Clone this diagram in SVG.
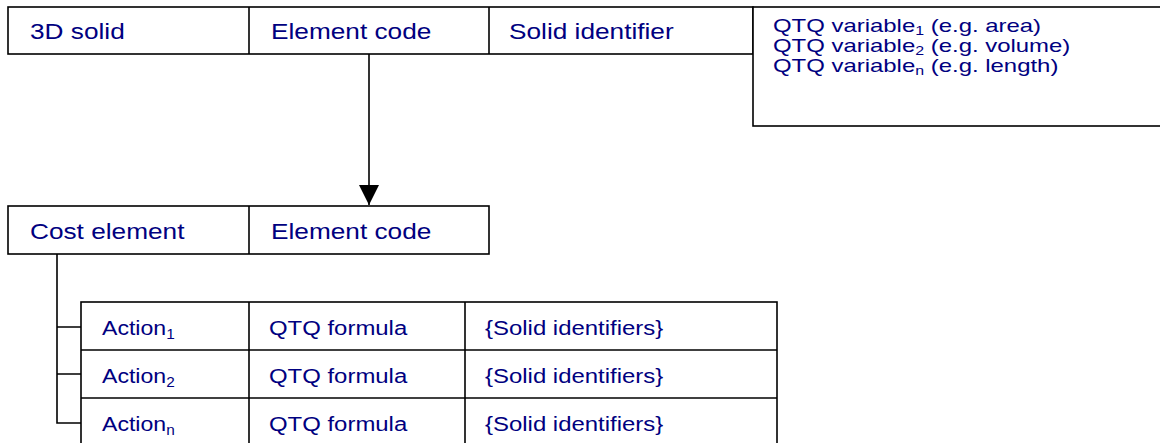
<svg xmlns="http://www.w3.org/2000/svg" width="1160" height="443" viewBox="0 0 1160 443">
  <style>
    .box { fill: #ffffff; stroke: #000000; stroke-width: 1.6; }
    .ln { fill: none; stroke: #000000; stroke-width: 1.6; }
    .t { font-family: "Liberation Sans", Arial, sans-serif; fill: #000080; }
    .big { font-size: 21.5px; }
    .sm { font-size: 21px; }
    .var { font-size: 18px; }
    .sub { font-size: 14px; }
    .vsub { font-size: 12px; }
  </style>
  <defs>
    <marker id="arrow" viewBox="0 0 20 20" refX="10" refY="20" markerWidth="20" markerHeight="20" markerUnits="userSpaceOnUse" orient="0">
      <path d="M0,0 L20,0 L10,20 Z" fill="#000000"/>
    </marker>
  </defs>
  <rect width="1160" height="443" fill="#ffffff"/>

  <!-- solid record -->
  <g id="solid-record">
    <rect class="box" x="8" y="7" width="745" height="47"/>
    <line class="ln" x1="249" y1="7" x2="249" y2="54"/>
    <line class="ln" x1="489" y1="7" x2="489" y2="54"/>
    <text class="t big" transform="translate(30 38.5) scale(1.22 1)">3D solid</text>
    <text class="t big" transform="translate(271 38.5) scale(1.22 1)">Element code</text>
    <text class="t big" transform="translate(509 38.5) scale(1.22 1)">Solid identifier</text>
  </g>

  <!-- quantity variables -->
  <g id="qtq-variables">
    <rect class="box" x="753" y="7" width="420" height="119"/>
    <text class="t var" transform="translate(773 31.5) scale(1.33 1)">QTQ variable<tspan class="vsub" dy="3">1</tspan><tspan dy="-3"> (e.g. area)</tspan></text>
    <text class="t var" transform="translate(773 51.5) scale(1.33 1)">QTQ variable<tspan class="vsub" dy="3">2</tspan><tspan dy="-3"> (e.g. volume)</tspan></text>
    <text class="t var" transform="translate(773 71.5) scale(1.33 1)">QTQ variable<tspan class="vsub" dy="3">n</tspan><tspan dy="-3"> (e.g. length)</tspan></text>
  </g>

  <!-- cost element record -->
  <g id="cost-element">
    <rect class="box" x="8" y="206" width="481" height="48"/>
    <line class="ln" x1="249" y1="206" x2="249" y2="254"/>
    <text class="t big" transform="translate(30 239) scale(1.22 1)">Cost element</text>
    <text class="t big" transform="translate(271 239) scale(1.22 1)">Element code</text>
  </g>

  <!-- actions table -->
  <g id="actions">
    <rect class="box" x="81" y="302" width="696" height="150"/>
    <line class="ln" x1="81" y1="350" x2="777" y2="350"/>
    <line class="ln" x1="81" y1="398" x2="777" y2="398"/>
    <line class="ln" x1="249" y1="302" x2="249" y2="452"/>
    <line class="ln" x1="465" y1="302" x2="465" y2="452"/>
    <text class="t sm" transform="translate(102 335) scale(1.1 1)">Action<tspan class="sub" dy="4">1</tspan></text>
    <text class="t sm" transform="translate(102 383) scale(1.1 1)">Action<tspan class="sub" dy="4">2</tspan></text>
    <text class="t sm" transform="translate(102 431) scale(1.1 1)">Action<tspan class="sub" dy="4">n</tspan></text>
    <text class="t sm" transform="translate(269 335) scale(1.14 1)">QTQ formula</text>
    <text class="t sm" transform="translate(269 383) scale(1.14 1)">QTQ formula</text>
    <text class="t sm" transform="translate(269 431) scale(1.14 1)">QTQ formula</text>
    <text class="t sm" transform="translate(485 335) scale(1.14 1)">{Solid identifiers}</text>
    <text class="t sm" transform="translate(485 383) scale(1.14 1)">{Solid identifiers}</text>
    <text class="t sm" transform="translate(485 431) scale(1.14 1)">{Solid identifiers}</text>
  </g>

  <!-- connectors -->
  <g id="connectors">
    <line class="ln" x1="369" y1="54" x2="369" y2="205" marker-end="url(#arrow)"/>
    <path class="ln" d="M57,254 V423 H81 M57,327 H81 M57,374 H81"/>
  </g>
</svg>
